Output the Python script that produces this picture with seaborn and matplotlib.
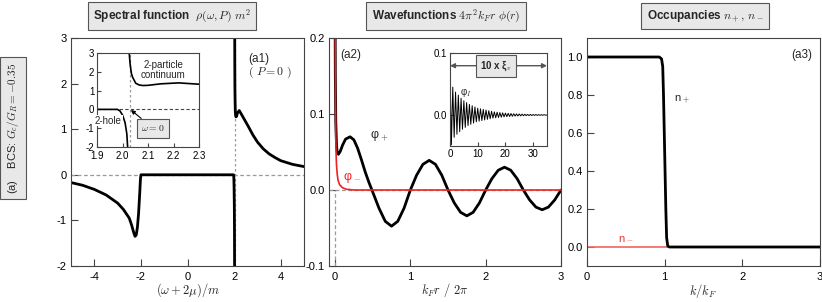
import numpy as np
import matplotlib
matplotlib.use("Agg")
import matplotlib.pyplot as plt
import seaborn as sns

# ---------------- data ----------------
# Panel (a1): spectral function, lower branch (x <= 2.02) and upper branch
spec_lo_x = [-5.0, -4.5, -4.0, -3.5, -3.0, -2.75, -2.5, -2.4, -2.3, -2.25, -2.2, -2.15,
             -2.1, -2.05, -2.02, -2.0, 1.98, 1.99, 2.0, 2.01, 2.017, 2.021]
spec_lo_y = [-0.17, -0.23, -0.32, -0.44, -0.62, -0.76, -0.95, -1.1, -1.28, -1.35, -1.32, -1.15,
             -0.85, -0.4, -0.1, 0.0, 0.0, -0.08, -0.3, -0.7, -1.3, -2.2]
spec_hi_x = [2.025, 2.03, 2.035, 2.04, 2.052, 2.065, 2.08, 2.1, 2.15, 2.22, 2.3, 2.4,
             2.6, 2.8, 3.0, 3.25, 3.5, 3.75, 4.0, 4.5, 5.0]
spec_hi_y = [3.2, 2.4, 1.9, 1.7, 1.39, 1.3, 1.27, 1.28, 1.36, 1.41, 1.34, 1.25,
             1.07, 0.88, 0.72, 0.57, 0.46, 0.38, 0.31, 0.23, 0.18]

# Panel (a2): wavefunctions
phip_x = [0.0, 0.004, 0.01, 0.02, 0.03, 0.045, 0.07, 0.1, 0.14, 0.2, 0.25, 0.3, 0.35, 0.4,
          0.45, 0.49, 0.583, 0.667, 0.75, 0.833, 0.917, 1.0, 1.083, 1.167, 1.25, 1.333,
          1.417, 1.5, 1.583, 1.667, 1.75, 1.833, 1.917, 2.0, 2.083, 2.167, 2.25, 2.333,
          2.417, 2.5, 2.583, 2.667, 2.75, 2.833, 2.917, 3.0]
phip_y = [0.25, 0.15, 0.09, 0.058, 0.049, 0.047, 0.051, 0.059, 0.067, 0.070, 0.066, 0.055,
          0.040, 0.024, 0.010, 0.0, -0.0238, -0.0412, -0.0476, -0.0412, -0.0238, 0.0,
          0.0195, 0.0338, 0.039, 0.0338, 0.0195, 0.0, -0.017, -0.0294, -0.034, -0.0294,
          -0.017, 0.0, 0.015, 0.026, 0.030, 0.026, 0.015, 0.0, -0.013, -0.0225, -0.026,
          -0.0225, -0.013, 0.0]
phim_x = [0.0, 0.003, 0.006, 0.01, 0.015, 0.02, 0.03, 0.04, 0.06, 0.1, 0.15, 0.25, 3.0]
phim_y = [0.25, 0.2, 0.12, 0.07, 0.045, 0.032, 0.02, 0.013, 0.007, 0.003, 0.001, 0.0, 0.0]

# inset (a2): peaks and troughs of the long-range wavefunction
inset_up = [0.074, 0.045, 0.037, 0.032, 0.027, 0.023, 0.020, 0.017, 0.015, 0.013, 0.011,
            0.010, 0.009, 0.008, 0.007, 0.006, 0.005, 0.0045, 0.004, 0.0035, 0.003, 0.0027,
            0.0024, 0.0021, 0.0018, 0.0016, 0.0014, 0.0012, 0.001, 0.0009, 0.0008, 0.0007,
            0.0006, 0.0005, 0.0004]
inset_low = [-0.048, -0.036, -0.031, -0.027, -0.023, -0.020, -0.017, -0.015, -0.013, -0.011,
             -0.010, -0.009, -0.008, -0.007, -0.006, -0.005, -0.0045, -0.004, -0.0035,
             -0.003, -0.0027, -0.0024, -0.0021, -0.0018, -0.0016, -0.0014, -0.0012, -0.001,
             -0.0009, -0.0008, -0.0007, -0.0006, -0.0005, -0.0004, -0.0003]

# Panel (a3): occupancies
np_x = [0.0, 0.93, 0.96, 0.975, 0.985, 1.0, 1.015, 1.025, 1.04, 1.06, 3.0]
np_y = [1.0, 1.0, 0.99, 0.95, 0.8, 0.5, 0.2, 0.05, 0.005, 0.0, 0.0]
nm_x = [0.0, 1.03]
nm_y = [0.0, 0.0]

# ---------------- style ----------------
sns.set_theme(style="ticks")
plt.rcParams['font.family'] = ['Liberation Sans', 'DejaVu Sans']
plt.rcParams['mathtext.fontset'] = 'cm'
plt.rcParams['axes.unicode_minus'] = False
SP = '#444444'
plt.rcParams.update({
    'axes.edgecolor': SP, 'axes.linewidth': 0.8,
    'xtick.direction': 'in', 'ytick.direction': 'in',
    'xtick.color': SP, 'ytick.color': SP,
    'xtick.labelcolor': 'black', 'ytick.labelcolor': 'black',
    'xtick.major.size': 5, 'ytick.major.size': 5,
    'xtick.major.width': 0.8, 'ytick.major.width': 0.8,
    'xtick.labelsize': 8, 'ytick.labelsize': 8,
    'xtick.major.pad': 4, 'ytick.major.pad': 3,
})

W, H = 822, 302
fig = plt.figure(figsize=(W / 100, H / 100), dpi=100)


def px_axes(x0, y0, x1, y1):
    return fig.add_axes([x0 / W, 1 - y1 / H, (x1 - x0) / W, (y1 - y0) / H])


GREY = '#9a9a9a'
BOX = dict(boxstyle='square,pad=0.45', fc='#e8e8e8', ec='#555555', lw=0.8)


def line(ax, x, y, **kw):
    sns.lineplot(x=x, y=y, ax=ax, sort=False, estimator=None, legend=False, **kw)


# ---------- panel a1 ----------
ax1 = px_axes(71, 38, 304, 266)
ax1.axhline(0, color=GREY, lw=0.9, ls=(0, (3, 2)))
ax1.axvline(2.03, color=GREY, lw=0.9, ls=(0, (2, 2)))
line(ax1, spec_lo_x, spec_lo_y, color='black', lw=2.0)
line(ax1, spec_hi_x, spec_hi_y, color='black', lw=2.0)
ax1.set_xlim(-5, 5)
ax1.set_ylim(-2, 3)
ax1.set_xticks([-4, -2, 0, 2, 4])
ax1.set_yticks([-2, -1, 0, 1, 2, 3])
ax1.text(2.6, 2.55, "(a1)", fontsize=8.5, va='center')
ax1.text(2.6, 2.25, r"$(\ P = 0\ )$", fontsize=8.5, va='center')

ins1 = px_axes(97, 53, 199, 147)
ins1.axhline(0, color=SP, lw=0.8, ls=(0, (3, 2)))
ins1.axvline(2.03, color=GREY, lw=0.9, ls=(0, (2, 2)))
line(ins1, spec_lo_x, spec_lo_y, color='black', lw=1.2)
line(ins1, spec_hi_x, spec_hi_y, color='black', lw=1.2)
ins1.set_xlim(1.9, 2.3)
ins1.set_ylim(-2, 3)
ins1.set_xticks([1.9, 2.0, 2.1, 2.2, 2.3])
ins1.set_yticks([-2, -1, 0, 1, 2, 3])
ins1.tick_params(labelsize=7, length=3)
ins1.tick_params(axis='x', pad=3)
ins1.tick_params(axis='y', pad=2)
ins1.text(2.16, 2.1, "2-particle\ncontinuum", fontsize=7, ha='center', va='center',
          linespacing=1.0)
ins1.text(1.945, -0.6, "2-hole", fontsize=7, ha='center', va='center',
          bbox=dict(fc='white', ec='none', pad=0.5))
ins1.annotate(r"$\omega = 0$", xy=(2.033, -0.03), xytext=(2.12, -1.0), fontsize=7,
              ha='center', va='center', bbox=BOX,
              arrowprops=dict(arrowstyle='-|>', color='black', lw=0.8,
                              shrinkA=0, shrinkB=0, mutation_scale=6))

# ---------- panel a2 ----------
ax2 = px_axes(329, 38, 561, 266)
ax2.axhline(0, color=GREY, lw=0.9, ls=(0, (3, 2)))
ax2.plot([0.0, 0.0], [-0.1, 0.0], color=GREY, lw=0.9, ls=(0, (3, 2)))
line(ax2, phip_x, phip_y, color='black', lw=2.0)
line(ax2, phim_x, phim_y, color='#ee2222', lw=1.2)
ax2.set_xlim(-0.08, 3)
ax2.set_ylim(-0.1, 0.2)
ax2.set_xticks([0, 1, 2, 3])
ax2.set_yticks([-0.1, 0.0, 0.1, 0.2])
ax2.yaxis.set_major_formatter(matplotlib.ticker.FormatStrFormatter('%.1f'))
ax2.text(0.07, 0.177, "(a2)", fontsize=8.5, va='center')
ax2.text(0.47, 0.071, r"φ$_+$", fontsize=9, va='center')
ax2.text(0.1, 0.016, r"φ$_-$", fontsize=9, va='center', color='#ee2222')

ins2 = px_axes(450, 53, 547, 146)
pos = np.arange(len(inset_up))
ix = np.ravel(np.column_stack([pos, pos + 0.5]))
iy = np.ravel(np.column_stack([inset_up, inset_low]))
ix = np.append(ix, 35.0)
iy = np.append(iy, 0.0)
line(ins2, ix, iy, color='black', lw=0.7)
ins2.set_xlim(0, 35)
ins2.set_ylim(-0.05, 0.1)
ins2.set_xticks([0, 10, 20, 30])
ins2.set_yticks([0.0, 0.1])
ins2.yaxis.set_major_formatter(matplotlib.ticker.FormatStrFormatter('%.1f'))
ins2.tick_params(labelsize=7, length=3, pad=2)
ins2.annotate('', xy=(0, 0.0795), xytext=(35, 0.0795),
              arrowprops=dict(arrowstyle='<|-|>', color='#555555', lw=1.0,
                              shrinkA=0, shrinkB=0, mutation_scale=7))
ins2.text(16.5, 0.0795, r"10 x ξ$_v$", fontsize=7, fontweight='bold', ha='center',
          va='center', bbox=BOX)
ins2.text(3.5, 0.037, r"φ$_I$", fontsize=7, va='center')

# ---------- panel a3 ----------
ax3 = px_axes(587, 38, 820, 266)
line(ax3, nm_x, nm_y, color='#f06464', lw=1.2)
line(ax3, np_x, np_y, color='black', lw=2.0)
ax3.set_xlim(0, 3)
ax3.set_ylim(-0.1, 1.1)
ax3.set_xticks([0, 1, 2, 3])
ax3.set_yticks([0.0, 0.2, 0.4, 0.6, 0.8, 1.0])
ax3.yaxis.set_major_formatter(matplotlib.ticker.FormatStrFormatter('%.1f'))
ax3.text(2.63, 1.01, "(a3)", fontsize=8.5, va='center')
ax3.text(1.12, 0.78, r"n$_+$", fontsize=8, va='center')
ax3.text(0.4, 0.045, r"n$_-$", fontsize=8, va='center', color='#ee3333')

# ---------- titles and labels ----------
fig.text(172 / W, 1 - 16 / H, r"Spectral function  $\rho(\omega,P)\ m^2$", fontsize=8.5,
         fontweight='bold', ha='center', va='center', bbox=BOX)
fig.text(446 / W, 1 - 16 / H, r"Wavefunctions $4\pi^2 k_F r\ \phi(r)$", fontsize=8.5,
         fontweight='bold', ha='center', va='center', bbox=BOX)
fig.text(705 / W, 1 - 16 / H, r"Occupancies $n_+,\, n_-$", fontsize=8.5,
         fontweight='bold', ha='center', va='center', bbox=BOX)

fig.text(188 / W, 1 - 290 / H, r"$(\omega + 2\mu)/m$", fontsize=9, ha='center', va='center')
fig.text(445 / W, 1 - 290 / H, r"$k_F r\ /\ 2\pi$", fontsize=9, ha='center', va='center')
fig.text(703 / W, 1 - 291 / H, r"$k/k_F$", fontsize=9, ha='center', va='center')

fig.text(13 / W, 1 - 128 / H, r"(a)    BCS: $G_c/G_R = {-0.35}$", fontsize=8,
         rotation=90, ha='center', va='center', bbox=BOX)

fig.savefig("out.png", dpi=100)
